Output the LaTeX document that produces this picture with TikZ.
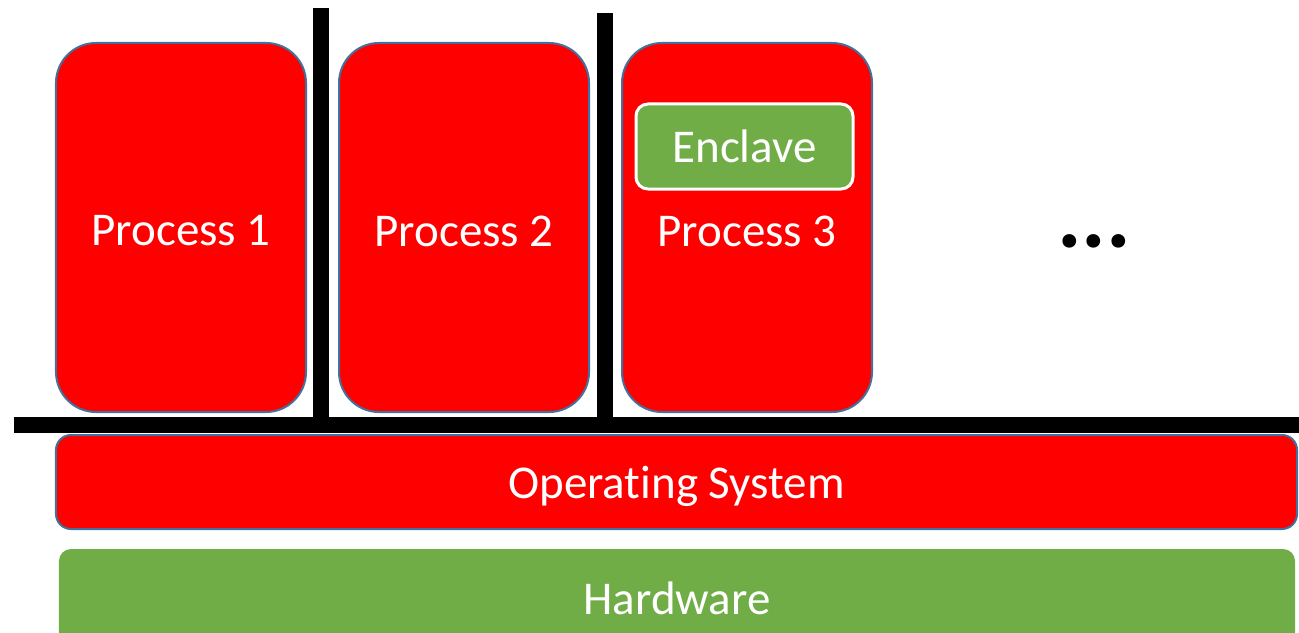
\documentclass[tikz,border=0pt]{standalone}
\usepackage{fontspec}
\setmainfont[Ligatures=NoCommon]{Carlito}
\begin{document}
\begin{tikzpicture}[x=1bp,y=-1bp,
  lbl/.style={text=white, font=\fontsize{47bp}{50bp}\selectfont, inner sep=0pt},
  proc/.style={draw=edgeblue, line width=2bp, fill=pred, rounded corners=40bp, inner sep=0pt},
  osbox/.style={draw=edgeblue, line width=2bp, fill=pred, rounded corners=15bp, lbl},
  hwbox/.style={fill=pgreen, rounded corners=12bp, inner sep=0pt},
  encbox/.style={draw=white, line width=3bp, fill=pgreen, rounded corners=12bp, lbl},
  bar/.style={fill=black, draw=none, inner sep=0pt}
]
\definecolor{pred}{HTML}{FF0000}
\definecolor{pgreen}{HTML}{70AD47}
\definecolor{edgeblue}{HTML}{41719C}
\useasboundingbox (0,0) rectangle (1299,633);
\begin{scope}
\clip (0,0) rectangle (1299,633);
% processes
\node[proc, minimum width=250bp, minimum height=369bp] (p1) at (181,227.5) {};
\node[proc, minimum width=250bp, minimum height=369bp] (p2) at (464,227.5) {};
\node[proc, minimum width=250bp, minimum height=369bp] (p3) at (747,227.5) {};
\node[lbl] (t1) at (181,231) {Process 1};
\node[lbl] (t2) at (464,231) {Process 2};
\node[lbl] (t3) at (747,231) {Process 3};
\node[encbox, minimum width=217bp, minimum height=85bp] (enc) at (744.5,146.5) {Enclave};
% bars
\node[bar, minimum width=16bp, minimum height=425bp] (v1) at (321,220.5) {};
\node[bar, minimum width=16bp, minimum height=420bp] (v2) at (605,223) {};
\node[bar, minimum width=1285bp, minimum height=16bp] (h) at (656.5,425) {};
% OS and hardware
\node[osbox, minimum width=1241bp, minimum height=94bp] (os) at (676.5,482) {};
\node[lbl] (ost) at (676.5,486) {Operating System};
\node[hwbox, minimum width=1236bp, minimum height=110bp] (hw) at (677,604) {};
\node[lbl] (hwt) at (677,598) {Hardware};
% dots
\node[font=\fontsize{92bp}{96bp}\selectfont\bfseries, text=black] (dots) at (1094,241) {...};
\end{scope}
\end{tikzpicture}
\end{document}
